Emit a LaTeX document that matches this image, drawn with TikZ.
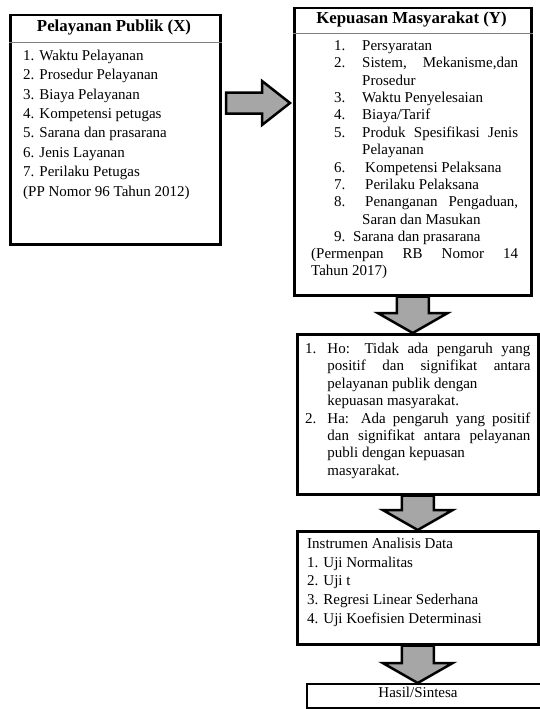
\documentclass[tikz,border=0pt]{standalone}
\usepackage{fontspec}
\setmainfont{Liberation Serif}
\usetikzlibrary{calc}

\definecolor{arrowgray}{RGB}{166,166,166}

% block arrow pointing down from box #1 to box #2
\newcommand{\downblock}[2]{%
\path[blockarrow] ($(#1.south)+(-16,0)$) -- ($(#1.south)+(16,0)$)
  -- ($(#1.south |- #2.north)+(16,-20)$) -- ($(#1.south |- #2.north)+(35,-20)$)
  -- (#1.south |- #2.north)
  -- ($(#1.south |- #2.north)+(-35,-20)$) -- ($(#1.south |- #2.north)+(-16,-20)$)
  -- cycle;}

\begin{document}
\begin{tikzpicture}[x=1pt,y=-1pt,
  box/.style={draw,line width=2.5pt,inner sep=0pt,anchor=north west},
  blockarrow/.style={draw,line width=2.5pt,fill=arrowgray,line join=miter},
  titleline/.style={draw=gray,line width=1pt},
  txt/.style={anchor=base west,inner sep=0pt,font=\fontsize{15}{17.4}\selectfont},
  head/.style={anchor=mid,inner sep=0pt,font=\fontsize{16.8}{18}\selectfont\bfseries}]
\useasboundingbox (0,0) rectangle (540,709);

% left box
\node[box,minimum width=210,minimum height=229] (xbox) at (9,14) {};
\node[head] (xtitle) at (114,29) {Pelayanan Publik (X)};
\path[titleline] (xbox.west |- 0,43) -- (xbox.east |- 0,43);
\node[txt,font=\fontsize{15}{19.4}\selectfont] (xlist) at (23,60.4) {\begin{tabular}[t]{@{}l@{}}
1. Waktu Pelayanan\\
2. Prosedur Pelayanan\\
3. Biaya Pelayanan\\
4. Kompetensi petugas\\
5. Sarana dan prasarana\\
6. Jenis Layanan\\
7. Perilaku Petugas\\
(PP Nomor 96 Tahun 2012)
\end{tabular}};

% right box
\node[box,minimum width=237,minimum height=287] (ybox) at (293,7) {};
\node[head] (ytitle) at (411.5,21) {Kepuasan Masyarakat (Y)};
\path[titleline] (ybox.west |- 0,34) -- (ybox.east |- 0,34);
\node[txt] (ylist) at (334,50.4) {\begin{tabular}[t]{@{}l@{\hspace{16.75pt}}l@{}}
1. & Persyaratan\\
2. & \makebox[156pt][s]{Sistem, Mekanisme,dan}\\
   & Prosedur\\
3. & Waktu Penyelesaian\\
4. & Biaya/Tarif\\
5. & \makebox[156pt][s]{Produk Spesifikasi Jenis}\\
   & Pelayanan\\
6. & \hspace*{3pt}Kompetensi Pelaksana\\
7. & \hspace*{3pt}Perilaku Pelaksana\\
8. & \makebox[156pt][s]{\hspace*{3pt}Penanganan Pengaduan,}\\
   & Saran dan Masukan\\
9. & \hspace*{-9pt}Sarana dan prasarana
\end{tabular}};
\node[txt] (ynote) at (311,258.4) {\begin{tabular}[t]{@{}l@{}}
\makebox[207pt][s]{(Permenpan RB Nomor 14}\\
Tahun 2017)
\end{tabular}};

% hypothesis box
\node[box,minimum width=241,minimum height=160] (hbox) at (296,333) {};
\node[txt] (hlist) at (305,353.4) {\begin{tabular}[t]{@{}l@{\hspace{11pt}}l@{}}
1. & \makebox[203pt][s]{Ho: Tidak ada pengaruh yang}\\
   & \makebox[203pt][s]{positif dan signifikat antara}\\
   & pelayanan publik dengan\\
   & kepuasan masyarakat.\\
2. & \makebox[203pt][s]{Ha: Ada pengaruh yang positif}\\
   & \makebox[203pt][s]{dan signifikat antara pelayanan}\\
   & publi dengan kepuasan\\
   & masyarakat.
\end{tabular}};

% analysis box
\node[box,minimum width=241,minimum height=113] (abox) at (296,530) {};
\node[txt,font=\fontsize{15}{18.75}\selectfont] (alist) at (307,548.4) {\begin{tabular}[t]{@{}l@{}}
Instrumen Analisis Data\\
1. Uji Normalitas\\
2. Uji t\\
3. Regresi Linear Sederhana\\
4. Uji Koefisien Determinasi
\end{tabular}};

% result box
\node[box,line width=1.8pt,minimum width=250,minimum height=24] (sbox) at (306,683) {};
\node[anchor=mid,inner sep=0pt,font=\fontsize{15}{17.4}\selectfont] (stext) at (418,695) {Hasil/Sintesa};

% arrows
\coordinate (xout) at (226,103);
\path[blockarrow] ($(xout)+(0,-10.5)$) -- ($(xout)+(36,-10.5)$) -- ($(xout)+(36,-22)$)
  -- ($(ybox.west |- xout)+(-3,0)$)
  -- ($(xout)+(36,22)$) -- ($(xout)+(36,10.5)$) -- ($(xout)+(0,10.5)$) -- cycle;
\downblock{ybox}{hbox}
\downblock{hbox}{abox}
\downblock{abox}{sbox}
\end{tikzpicture}
\end{document}
